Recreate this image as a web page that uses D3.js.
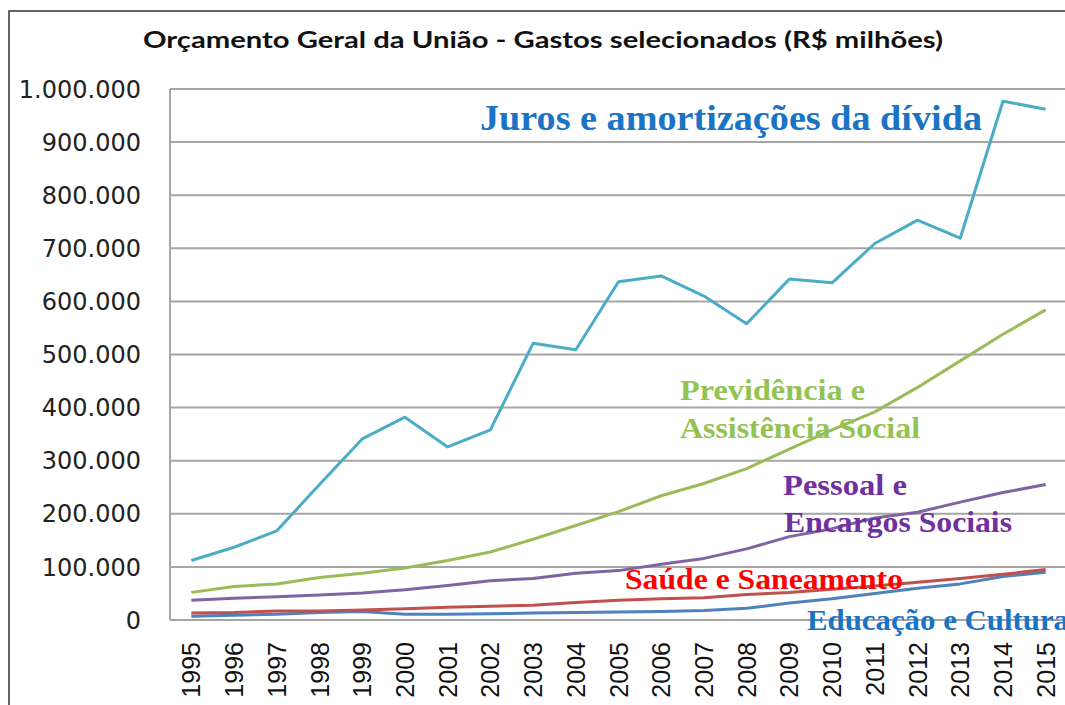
<!DOCTYPE html>
<html>
<head>
<meta charset="utf-8">
<script src="https://cdn.jsdelivr.net/npm/d3@7"></script>
<style>
  body { margin: 0; background: #fff; }
  svg { display: block; }
</style>
</head>
<body>
<div id="chart"></div>
<script>
// valores em R$ milhões
var anos = ["1995","1996","1997","1998","1999","2000","2001","2002","2003","2004","2005",
            "2006","2007","2008","2009","2010","2011","2012","2013","2014","2015"];
var juros      = [112000,137000,168000,255000,341000,382000,326000,358000,521000,509000,637000,
                  648000,610000,558000,642000,635000,709000,753000,719000,977000,962000];
var previdencia = [52000,63000,68000,80000,88000,98000,112000,128000,152000,178000,204000,
                  234000,257000,285000,322000,358000,392000,438000,488000,538000,584000];
var pessoal    = [37000,41000,44000,47000,51000,57000,65000,74000,78000,88000,93000,
                  105000,116000,134000,157000,172000,192000,203000,222000,240000,255000];
var saude      = [13000,14000,17000,17000,19000,21000,24000,26000,28000,33000,37000,
                  40000,42000,48000,52000,58000,64000,71000,78000,86000,95000];
var educacao   = [7000,9000,11000,14000,16000,11000,11000,12000,13000,14000,15000,
                  16000,18000,22000,32000,40000,50000,60000,68000,82000,90000];
var yTicks = [0,100000,200000,300000,400000,500000,600000,700000,800000,900000,1000000];

var W = 1065, H = 705;
var svg = d3.select("#chart").append("svg").attr("width", W).attr("height", H);

// moldura do gráfico
svg.append("path")
    .attr("d", "M9,705 L9,11 L1065,11")
    .attr("fill", "none").attr("stroke", "#333").attr("stroke-width", 1.5);

// título
svg.append("text")
    .attr("x", 543).attr("y", 48)
    .attr("text-anchor", "middle")
    .attr("textLength", 800).attr("lengthAdjust", "spacingAndGlyphs")
    .style("font-family", "Lato, 'Open Sans', sans-serif")
    .style("font-weight", 700)
    .style("font-size", "23px")
    .style("fill", "#111")
    .text("Orçamento Geral da União - Gastos selecionados (R$ milhões)");

var x = d3.scaleBand().domain(anos).range([170, 1067]);
var y = d3.scaleLinear().domain([0, 1000000]).range([620, 89]);
var cx = function(d) { return x(d) + x.bandwidth() / 2; };

// grade
svg.append("g").selectAll("line").data(yTicks).enter()
    .append("line")
    .attr("x1", 170).attr("x2", 1065)
    .attr("y1", d => y(d)).attr("y2", d => y(d))
    .attr("stroke", "#a6a6a6").attr("stroke-width", 2);
svg.append("line")
    .attr("x1", 170).attr("x2", 170).attr("y1", y(1000000)).attr("y2", y(0))
    .attr("stroke", "#a6a6a6").attr("stroke-width", 2);

// eixo y
var fmt = function(v) { return d3.format(",")(v).replace(/,/g, "."); };
svg.append("g").selectAll("text").data(yTicks).enter()
    .append("text")
    .attr("x", 141).attr("y", d => y(d))
    .attr("dy", "0.36em")
    .attr("text-anchor", "end")
    .style("font-family", "'DejaVu Sans', sans-serif")
    .style("font-size", "24px")
    .style("fill", "#222")
    .text(fmt);

// eixo x
svg.append("g").selectAll("text").data(anos).enter()
    .append("text")
    .attr("transform", d => "translate(" + cx(d) + ",642) rotate(-90)")
    .attr("dy", "0.36em")
    .attr("text-anchor", "end")
    .style("font-family", "'Liberation Sans', Arial, sans-serif")
    .style("font-size", "25px")
    .style("fill", "#111")
    .text(d => d);

// linhas
var series = [
    {vals: educacao, cor: "#4f81bd"},
    {vals: saude, cor: "#c0504d"},
    {vals: pessoal, cor: "#8064a2"},
    {vals: previdencia, cor: "#9bbb59"},
    {vals: juros, cor: "#4bacc6"}
];
var line = d3.line()
    .x((d, i) => cx(anos[i]))
    .y(d => y(d));
svg.append("g").selectAll("path").data(series).enter()
    .append("path")
    .attr("d", d => line(d.vals))
    .attr("fill", "none")
    .attr("stroke", d => d.cor)
    .attr("stroke-width", 3)
    .attr("stroke-linejoin", "round");

// rótulos das séries
var rotulos = [
    {t: "Juros e amortizações da dívida", x: 480, y: 130, w: 502, s: 35, c: "#1a73c4"},
    {t: "Previdência  e", x: 680, y: 400, w: 185, s: 29, c: "#92c353"},
    {t: "Assistência Social", x: 680, y: 438, w: 240, s: 29, c: "#92c353"},
    {t: "Pessoal e", x: 783, y: 495, w: 124, s: 29, c: "#7030a0"},
    {t: "Encargos  Sociais", x: 784, y: 532, w: 228, s: 29, c: "#7030a0"},
    {t: "Saúde e Saneamento", x: 625, y: 589, w: 278, s: 29, c: "#ff0000"},
    {t: "Educação  e Cultura", x: 807, y: 630, w: 262, s: 29, c: "#1a73c4"}
];
svg.append("g").selectAll("text").data(rotulos).enter()
    .append("text")
    .attr("x", d => d.x).attr("y", d => d.y)
    .attr("textLength", d => d.w).attr("lengthAdjust", "spacingAndGlyphs")
    .style("font-family", "'Liberation Serif', 'Times New Roman', serif")
    .style("font-weight", "bold")
    .style("font-size", d => d.s + "px")
    .style("fill", d => d.c)
    .text(d => d.t);
</script>
</body>
</html>
